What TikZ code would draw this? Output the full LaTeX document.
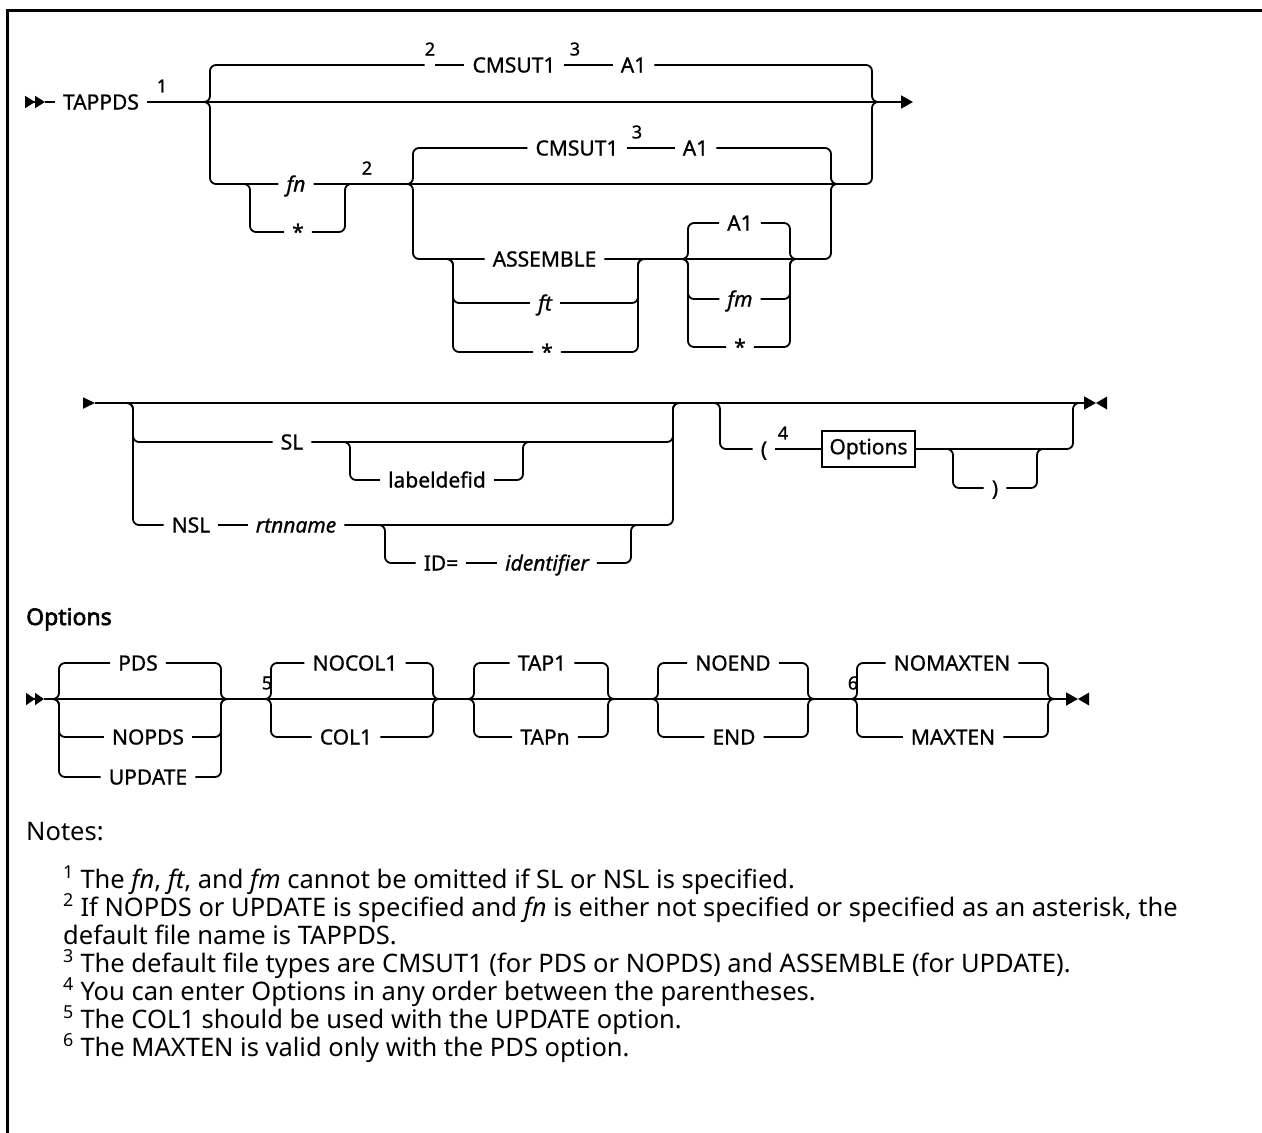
\documentclass[tikz,border=0pt]{standalone}
\usepackage{fontspec}
\setmainfont{Noto Sans}
\newfontfamily\railfamily{Noto Sans}[FakeBold=0.9]
\newfontfamily\headfamily{Noto Sans}[FakeBold=2.6]
\usetikzlibrary{arrows.meta}

\newcommand\railfont{\railfamily\fontsize{21}{25}\selectfont}
\newcommand\supfont{\railfamily\fontsize{18}{21}\selectfont}
\newcommand\notefont{\fontsize{25.5}{30}\selectfont}

\tikzset{
  rail/.style={line width=1.8pt, rounded corners=6pt},
  kw/.style={font=\railfont, inner xsep=8pt, inner ysep=0pt, text height=15pt, text depth=0pt},
  var/.style={kw, font=\railfont\itshape},
  supnum/.style={font=\supfont, inner sep=0pt},
  noteline/.style={font=\notefont, anchor=base west, inner sep=0pt},
  railtip/.style={-{Triangle[length=12pt,width=13pt]}},
}

\begin{document}
\begin{tikzpicture}[x=1pt,y=-1pt]
\useasboundingbox (0,0) rectangle (1262,1133);
% frame
\draw[line width=3pt] (7,1133) -- (7,10) -- (1262,10);

% ---- TAPPDS statement, first part
\coordinate (r1a) at (25,102);
\coordinate (r1b) at (45,102);
\coordinate (r1e) at (913,102);
\coordinate (aL) at (210,102);
\coordinate (aR) at (872,102);
\coordinate (fnL) at (250,184);
\coordinate (fnR) at (345,184);
\coordinate (bL) at (413,184);
\coordinate (bR) at (831,184);
\coordinate (cL) at (453,259);
\coordinate (cR) at (638,259);
\coordinate (dL) at (688,259);
\coordinate (dR) at (790,259);

\node[kw] (tappds) at (101,102) {TAPPDS};
\node[supnum] (n1) at (162,86) {1};
\node[supnum] (n2a) at (430,49) {2};
\node[kw] (cmsuta) at (514,65) {CMSUT1};
\node[supnum] (n3a) at (575,49) {3};
\node[kw] (afa) at (633.5,65) {A1};
\node[var] (fn) at (296,184) {fn};
\node[kw] (stara) at (298,232) {*};
\node[supnum] (n2b) at (367,168) {2};
\node[kw] (cmsutb) at (577,148) {CMSUT1};
\node[supnum] (n3b) at (637,132) {3};
\node[kw] (afb) at (695.5,148) {A1};
\node[kw] (assemble) at (544.5,259) {ASSEMBLE};
\node[var] (ft) at (545,303) {ft};
\node[kw] (starb) at (547,352) {*};
\node[kw] (afc) at (740,223) {A1};
\node[var] (fm) at (740,299) {fm};
\node[kw] (starc) at (740,347) {*};

\draw[rail, -{Triangle[length=10pt,width=12pt]Triangle[length=10pt,width=12pt]}] (r1a) -- (r1b);
\draw[rail] (r1b) -- (tappds.west);
\draw[rail, railtip] (tappds.east) -- (r1e);
% default file id
\draw[rail] ([xshift=-10pt]aL) -| (aL |- cmsuta) -- (n2a.west |- cmsuta);
\draw[rail] (n2a.east |- cmsuta) -- (cmsuta.west);
\draw[rail] (cmsuta.east) -- (afa.west);
\draw[rail] (afa.east) -| (aR) -- ([xshift=8pt]aR);
% fn branch
\draw[rail] ([xshift=-10pt]aL) -| (aL |- fn) -- (fn.west);
\draw[rail] (fn.east) -| (aR) -- ([xshift=8pt]aR);
\draw[rail] ([xshift=-10pt]fnL) -| (fnL |- stara) -- (stara.west);
\draw[rail] (stara.east) -| (fnR) -- ([xshift=8pt]fnR);
% file type and mode
\draw[rail] ([xshift=-10pt]bL) -| (bL |- cmsutb) -- (cmsutb.west);
\draw[rail] (cmsutb.east) -- (afb.west);
\draw[rail] (afb.east) -| (bR) -- ([xshift=8pt]bR);
\draw[rail] ([xshift=-10pt]bL) -| (bL |- assemble) -- (assemble.west);
\draw[rail] (assemble.east) -| (bR) -- ([xshift=8pt]bR);
\draw[rail] ([xshift=-10pt]cL) -| (cL |- ft) -- (ft.west);
\draw[rail] (ft.east) -| (cR) -- ([xshift=8pt]cR);
\draw[rail] ([xshift=-10pt]cL) -| (cL |- starb) -- (starb.west);
\draw[rail] (starb.east) -| (cR) -- ([xshift=8pt]cR);
\draw[rail] ([xshift=-10pt]dL) -| (dL |- afc) -- (afc.west);
\draw[rail] (afc.east) -| (dR) -- ([xshift=8pt]dR);
\draw[rail] ([xshift=-10pt]dL) -| (dL |- fm) -- (fm.west);
\draw[rail] (fm.east) -| (dR) -- ([xshift=8pt]dR);
\draw[rail] ([xshift=-10pt]dL) -| (dL |- starc) -- (starc.west);
\draw[rail] (starc.east) -| (dR) -- ([xshift=8pt]dR);

% ---- second part
\coordinate (r2a) at (83,403);
\coordinate (r2b) at (95,403);
\coordinate (r2e) at (1096,403);
\coordinate (eL) at (133,403);
\coordinate (eR) at (673,403);
\coordinate (fL) at (350,442);
\coordinate (fR) at (523,442);
\coordinate (gL) at (385,525);
\coordinate (gR) at (631,525);
\coordinate (hL) at (720,403);
\coordinate (hR) at (1073,403);
\coordinate (iL) at (953,449);
\coordinate (iR) at (1037,449);

\node[kw] (sl) at (292,442) {SL};
\node[kw] (labeldefid) at (437,480) {labeldefid};
\node[kw] (nsl) at (191,525) {NSL};
\node[var] (rtnname) at (296,525) {rtnname};
\node[kw] (idkw) at (441,563) {ID=};
\node[var] (identifier) at (547,563) {identifier};
\node[kw] (lparen) at (764,449) {(};
\node[supnum] (n4) at (783,433) {4};
\node[draw, line width=1.4pt, font=\railfont, inner sep=0pt, minimum width=93pt, minimum height=36pt] (optbox) at (868.5,449) {Options};
\node[kw] (rparen) at (995,488) {)};

\draw[rail, -{Triangle[length=12pt,width=11pt]}] (r2a) -- (r2b);
\draw[rail, railtip] (r2b) -- (r2e);
\fill (r2e) -- ([xshift=11pt,yshift=6.5pt]r2e) -- ([xshift=11pt,yshift=-6.5pt]r2e) -- cycle;
% SL / NSL
\draw[rail] ([xshift=-10pt]eL) -| (eL |- sl) -- (sl.west);
\draw[rail] (sl.east) -| (eR) -- ([xshift=8pt]eR);
\draw[rail] ([xshift=-10pt]fL) -| (fL |- labeldefid) -- (labeldefid.west);
\draw[rail] (labeldefid.east) -| (fR) -- ([xshift=8pt]fR);
\draw[rail] ([xshift=-10pt]eL) -| (eL |- nsl) -- (nsl.west);
\draw[rail] (nsl.east) -- (rtnname.west);
\draw[rail] (rtnname.east) -| (eR) -- ([xshift=8pt]eR);
\draw[rail] ([xshift=-10pt]gL) -| (gL |- idkw) -- (idkw.west);
\draw[rail] (idkw.east) -- (identifier.west);
\draw[rail] (identifier.east) -| (gR) -- ([xshift=8pt]gR);
% options in parentheses
\draw[rail] ([xshift=-10pt]hL) -| (hL |- lparen) -- (lparen.west);
\draw[rail] (lparen.east) -- (optbox.west);
\draw[rail] (optbox.east) -| (hR) -- ([xshift=8pt]hR);
\draw[rail] ([xshift=-10pt]iL) -| (iL |- rparen) -- (rparen.west);
\draw[rail] (rparen.east) -| (iR) -- ([xshift=8pt]iR);

% ---- Options fragment
\node[font=\headfamily\fontsize{23}{27}\selectfont, anchor=base west, inner sep=0pt] (opthead) at (26,625) {Options};

\coordinate (r3a) at (26,699);
\coordinate (r3b) at (44,699);
\coordinate (r3e) at (1078,699);
\coordinate (pL) at (59,699);
\coordinate (pR) at (221,699);
\coordinate (qL) at (271,699);
\coordinate (qR) at (433,699);
\coordinate (tL) at (474,699);
\coordinate (tR) at (608,699);
\coordinate (uL) at (658,699);
\coordinate (uR) at (808,699);
\coordinate (vL) at (857,699);
\coordinate (vR) at (1048,699);

\node[kw] (pds) at (138,663) {PDS};
\node[kw] (nopds) at (148,737) {NOPDS};
\node[kw] (update) at (148,777) {UPDATE};
\node[supnum] (n5) at (267,683) {5};
\node[kw] (nocol) at (355,663) {NOCOL1};
\node[kw] (col) at (346,737) {COL1};
\node[kw] (tapone) at (542,663) {TAP1};
\node[kw] (tapn) at (545,737) {TAPn};
\node[kw] (noend) at (733,663) {NOEND};
\node[kw] (endkw) at (734,737) {END};
\node[supnum] (n6) at (853,683) {6};
\node[kw] (nomaxten) at (952,663) {NOMAXTEN};
\node[kw] (maxten) at (953,737) {MAXTEN};

\draw[rail, -{Triangle[length=9pt,width=12pt]Triangle[length=9pt,width=12pt]}] (r3a) -- (r3b);
\draw[rail, railtip] (r3b) -- (r3e);
\fill (r3e) -- ([xshift=11pt,yshift=6.5pt]r3e) -- ([xshift=11pt,yshift=-6.5pt]r3e) -- cycle;
\draw[rail] ([xshift=-10pt]pL) -| (pL |- pds) -- (pds.west);
\draw[rail] (pds.east) -| (pR) -- ([xshift=8pt]pR);
\draw[rail] ([xshift=-10pt]pL) -| (pL |- nopds) -- (nopds.west);
\draw[rail] (nopds.east) -| (pR) -- ([xshift=8pt]pR);
\draw[rail] ([xshift=-10pt]pL) -| (pL |- update) -- (update.west);
\draw[rail] (update.east) -| (pR) -- ([xshift=8pt]pR);
\draw[rail] ([xshift=-10pt]qL) -| (qL |- nocol) -- (nocol.west);
\draw[rail] (nocol.east) -| (qR) -- ([xshift=8pt]qR);
\draw[rail] ([xshift=-10pt]qL) -| (qL |- col) -- (col.west);
\draw[rail] (col.east) -| (qR) -- ([xshift=8pt]qR);
\draw[rail] ([xshift=-10pt]tL) -| (tL |- tapone) -- (tapone.west);
\draw[rail] (tapone.east) -| (tR) -- ([xshift=8pt]tR);
\draw[rail] ([xshift=-10pt]tL) -| (tL |- tapn) -- (tapn.west);
\draw[rail] (tapn.east) -| (tR) -- ([xshift=8pt]tR);
\draw[rail] ([xshift=-10pt]uL) -| (uL |- noend) -- (noend.west);
\draw[rail] (noend.east) -| (uR) -- ([xshift=8pt]uR);
\draw[rail] ([xshift=-10pt]uL) -| (uL |- endkw) -- (endkw.west);
\draw[rail] (endkw.east) -| (uR) -- ([xshift=8pt]uR);
\draw[rail] ([xshift=-10pt]vL) -| (vL |- nomaxten) -- (nomaxten.west);
\draw[rail] (nomaxten.east) -| (vR) -- ([xshift=8pt]vR);
\draw[rail] ([xshift=-10pt]vL) -| (vL |- maxten) -- (maxten.west);
\draw[rail] (maxten.east) -| (vR) -- ([xshift=8pt]vR);

% ---- notes
\node[noteline] (notes) at (26,840) {Notes:};
\node[noteline] (note1) at (63,888) {\textsuperscript{1} The \textit{fn}, \textit{ft}, and \textit{fm} cannot be omitted if SL or NSL is specified.};
\node[noteline] (note2) at (63,916) {\textsuperscript{2} If NOPDS or UPDATE is specified and \textit{fn} is either not specified or specified as an asterisk, the};
\node[noteline] (note2b) at (63,944) {default file name is TAPPDS.};
\node[noteline] (note3) at (63,972) {\textsuperscript{3} The default file types are CMSUT1 (for PDS or NOPDS) and ASSEMBLE (for UPDATE).};
\node[noteline] (note4) at (63,1000) {\textsuperscript{4} You can enter Options in any order between the parentheses.};
\node[noteline] (note5) at (63,1028) {\textsuperscript{5} The COL1 should be used with the UPDATE option.};
\node[noteline] (note6) at (63,1056) {\textsuperscript{6} The MAXTEN is valid only with the PDS option.};
\end{tikzpicture}
\end{document}
